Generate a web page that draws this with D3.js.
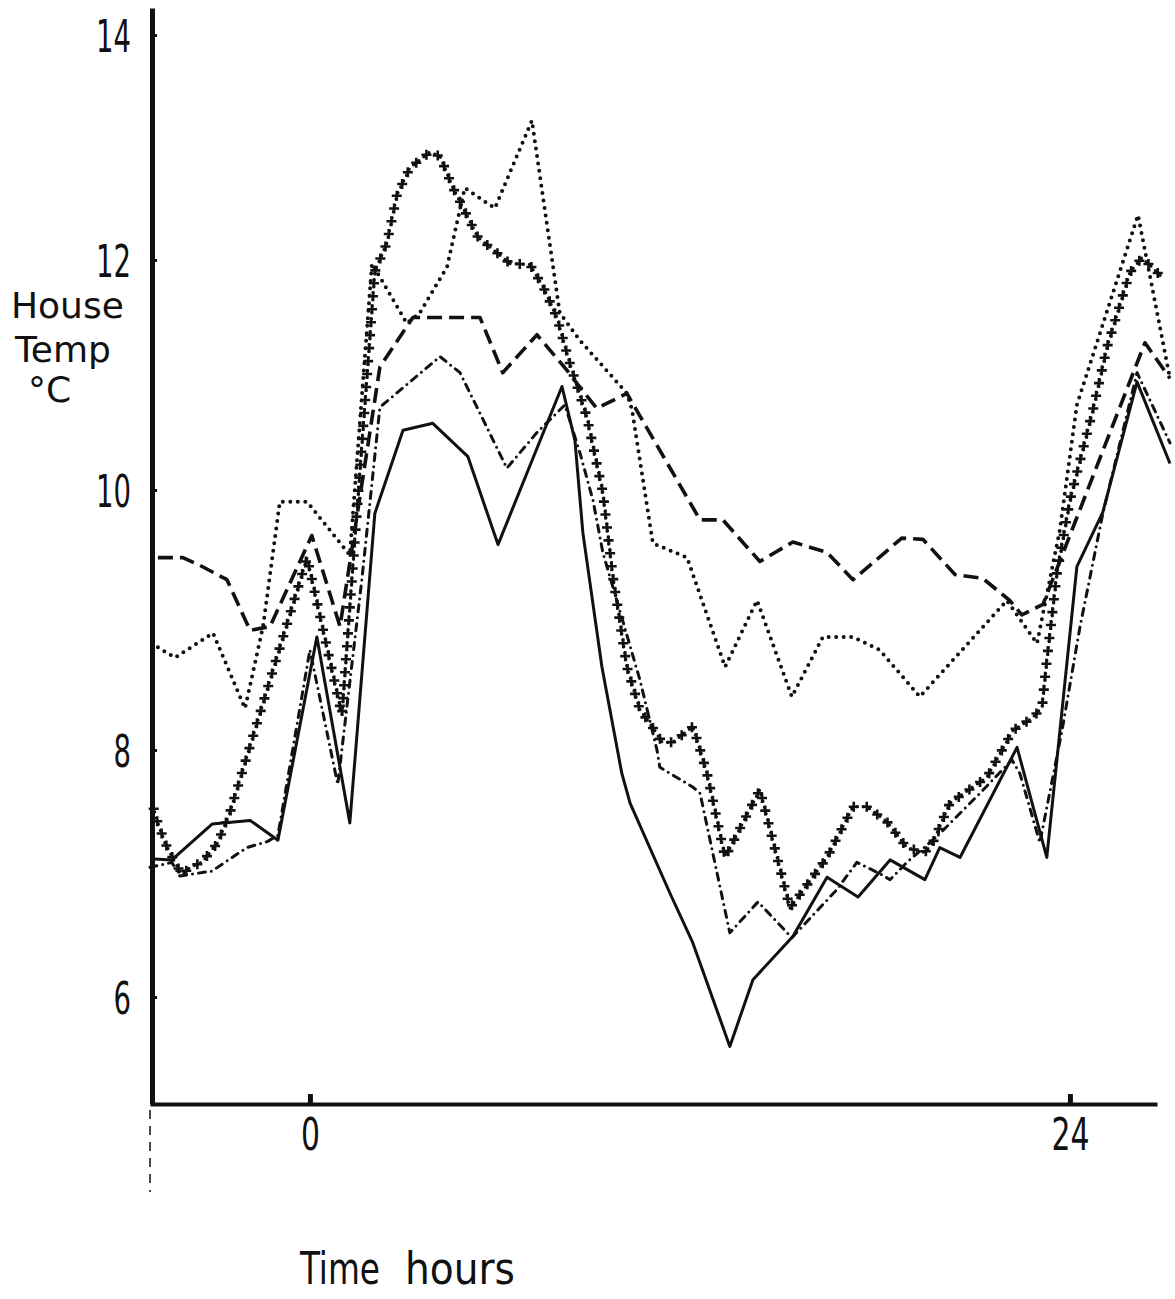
<!DOCTYPE html>
<html>
<head>
<meta charset="utf-8">
<script src="https://cdn.jsdelivr.net/npm/d3@7"></script>
<style>
  html, body { margin: 0; padding: 0; background: #fff; }
  svg { display: block; }
</style>
</head>
<body>
<svg id="chart" width="1175" height="1299"></svg>
<script>
// ---------------- data (hours, °C) ----------------
const yTickValues = [6, 8, 10, 12, 14];
const xTickValues = [0, 24];

const solidHours = [-5.05,-4.36,-3.09,-1.89,-1.01,0.22,1.26,2.05,2.94,3.88,4.99,5.94,7.96,8.37,8.62,9.22,9.85,10.11,11.37,12.09,13.26,13.99,15.25,16.33,17.31,18.32,19.42,19.89,20.53,22.33,23.27,24.22,25.04,26.12,27.16];
const solidTemps = [7.12,7.11,7.40,7.43,7.27,8.87,7.41,9.82,10.52,10.58,10.29,9.58,10.90,10.43,9.67,8.64,7.81,7.57,6.84,6.44,5.60,6.14,6.49,6.97,6.81,7.11,6.95,7.21,7.13,8.02,7.13,9.41,9.83,10.94,10.23];

const dashDotHours = [-5.05,-4.36,-4.11,-3.09,-1.99,-1.33,-1.01,0,0.88,1.64,2.21,4.11,4.74,6.22,7.17,8.05,8.53,8.94,9.25,10.42,10.96,11.05,12.09,12.32,13.26,14.15,15.22,16.64,17.27,17.99,18.32,18.85,19.80,21.16,22.17,22.42,23.05,23.46,23.75,24.32,25.04,26.12,27.16];
const dashDotTemps = [7.05,7.09,6.98,7.02,7.21,7.26,7.31,8.77,7.72,9.31,10.72,11.16,11.02,10.19,10.50,10.74,10.32,9.92,9.52,8.54,8.00,7.86,7.70,7.65,6.52,6.77,6.48,6.87,7.09,7.00,6.95,7.09,7.30,7.65,7.92,7.81,7.25,7.78,8.15,8.95,9.82,11.02,10.41];

const dashedHours = [-4.80,-4.01,-3.47,-2.62,-1.89,-1.26,0.06,0.95,2.21,3.25,5.37,6.09,7.17,8.12,8.59,9.06,10.01,12.32,13.04,14.21,15.25,16.33,17.15,18.69,19.36,20.37,21.25,22.10,22.48,23.15,26.37,27.16];
const dashedTemps = [9.48,9.48,9.42,9.31,8.92,8.95,9.65,8.95,11.07,11.50,11.50,11.02,11.35,11.04,10.87,10.71,10.84,9.77,9.77,9.45,9.60,9.52,9.31,9.63,9.62,9.35,9.32,9.15,9.04,9.12,11.28,10.97];

const dottedHours = [-4.80,-4.26,-3.06,-2.05,-1.48,-0.95,-0.09,1.26,1.96,3.06,3.47,4.33,4.89,5.84,7.01,7.89,8.53,10.01,10.17,10.83,11.91,13.11,14.12,15.22,16.20,17.15,17.99,19.26,22.01,22.96,23.68,24.22,26.15,27.16];
const dottedTemps = [8.79,8.71,8.90,8.32,8.95,9.91,9.91,9.50,11.97,11.45,11.54,11.94,12.64,12.46,13.24,11.54,11.30,10.84,10.70,9.59,9.48,8.64,9.15,8.41,8.87,8.87,8.77,8.41,9.15,8.82,9.69,10.74,12.40,10.97];

const crossHours = [-4.96,-4.83,-4.58,-4.26,-4.04,-3.79,-3.41,-2.91,-2.53,-0.09,1.01,1.58,2.05,2.43,2.75,3.16,3.79,4.11,4.52,5.31,6.32,6.95,7.36,7.80,8.21,8.75,9.25,9.57,10.01,10.42,10.89,11.12,11.46,12.09,12.25,12.54,13.11,14.21,15.16,16.33,17.15,17.59,18.22,18.85,19.42,19.67,20.21,21.38,22.20,22.83,23.12,23.27,23.59,24.00,24.73,25.17,25.89,26.27,26.62,26.94];
const crossTemps = [7.55,7.43,7.25,7.09,6.99,7.05,7.09,7.25,7.49,9.48,8.27,10.17,11.90,12.15,12.58,12.82,12.96,12.92,12.64,12.20,11.97,11.96,11.77,11.50,11.10,10.63,9.98,9.33,8.64,8.31,8.15,8.06,8.06,8.18,8.06,7.81,7.13,7.68,6.72,7.13,7.54,7.54,7.42,7.21,7.17,7.25,7.57,7.78,8.15,8.25,8.33,8.69,9.36,9.92,10.70,11.24,11.89,12.02,11.93,11.84];

// ---------------- scales ----------------
const svg = d3.select("#chart");
const x = d3.scaleLinear().domain([-5.05, 26.75]).range([150, 1157]);
// the hand-drawn axis has slightly uneven spacing between its labelled ticks
const y = d3.scaleLinear()
  .domain([5.134, 6, 8, 10, 12, 14, 14.24])
  .range([1104, 997, 750, 490, 260, 35, 8]);

const line = d3.line().x(d => x(d[0])).y(d => y(d[1]));
const ink = "#111";
const numFont = "'DejaVu Sans Condensed', 'DejaVu Sans', sans-serif";

// narrow, DIN-like figures: squeeze each label to the width of its digits
function narrow(sel, perDigit) {
  sel.each(function () {
    const t = d3.select(this);
    t.attr("textLength", t.text().length * perDigit).attr("lengthAdjust", "spacingAndGlyphs");
  });
}

// ---------------- axes ----------------
const yAxis = svg.append("g")
  .attr("transform", "translate(152,0)")
  .call(d3.axisLeft(y).tickValues(yTickValues).tickSize(9).tickSizeOuter(0).tickPadding(12));
yAxis.select(".domain").attr("stroke", ink).attr("stroke-width", 5);
yAxis.selectAll(".tick line").attr("stroke", ink).attr("stroke-width", 3).attr("x2", 5);
yAxis.selectAll(".tick text")
  .attr("fill", ink)
  .attr("font-family", numFont)
  .attr("font-size", 44)
  .attr("dy", "0.38em")
  .call(narrow, 17.5);

const xAxis = svg.append("g")
  .attr("transform", "translate(0,1104)")
  .call(d3.axisBottom(x).tickValues(xTickValues).tickSize(-10).tickSizeOuter(0).tickFormat(d3.format("d")));
xAxis.select(".domain").attr("stroke", ink).attr("stroke-width", 4);
xAxis.selectAll(".tick line").attr("stroke", ink).attr("stroke-width", 5);
xAxis.selectAll(".tick text")
  .attr("fill", ink)
  .attr("font-family", numFont)
  .attr("font-size", 44)
  .attr("y", 46).attr("dy", 0)
  .call(narrow, 19);

// faint broken line below the origin
svg.append("line")
  .attr("x1", x(-5.05)).attr("x2", x(-5.05))
  .attr("y1", 1110).attr("y2", 1192)
  .attr("stroke", ink).attr("stroke-width", 1.5)
  .attr("stroke-dasharray", "9 7");

// ---------------- titles ----------------
const yTitle = svg.append("g").attr("fill", ink)
  .attr("font-family", "'DejaVu Sans', sans-serif").attr("font-size", 36);
yTitle.append("text").attr("x", 11).attr("y", 318).text("House");
yTitle.append("text").attr("x", 15).attr("y", 362).text("Temp");
yTitle.append("text").attr("x", 28).attr("y", 402).text("°C");

const xTitle = svg.append("g").attr("fill", ink)
  .attr("font-family", numFont).attr("font-size", 44);
xTitle.append("text").attr("x", 300).attr("y", 1284)
  .attr("textLength", 80).attr("lengthAdjust", "spacingAndGlyphs").text("Time");
xTitle.append("text").attr("x", 405).attr("y", 1284)
  .attr("textLength", 110).attr("lengthAdjust", "spacingAndGlyphs").text("hours");

// ---------------- series ----------------
function drawSeries(hours, temps, style) {
  return svg.append("path")
    .datum(d3.zip(hours, temps))
    .attr("d", line)
    .attr("fill", "none")
    .attr("stroke", ink)
    .attr("stroke-linejoin", "round")
    .call(p => { for (const k in style) p.attr(k, style[k]); });
}

drawSeries(solidHours, solidTemps, {"stroke-width": 3});
drawSeries(dashedHours, dashedTemps, {"stroke-width": 3.6, "stroke-dasharray": "15 7"});
drawSeries(dottedHours, dottedTemps, {"stroke-width": 4, "stroke-linecap": "round", "stroke-dasharray": "0 7.5"});
drawSeries(dashDotHours, dashDotTemps, {"stroke-width": 3, "stroke-linecap": "round", "stroke-dasharray": "7 6 0 6"});

const crossPath = drawSeries(crossHours, crossTemps, {"stroke-width": 3.4, "stroke-linecap": "round", "stroke-dasharray": "0 6.5"});
const node = crossPath.node();
const total = node.getTotalLength();
const marks = d3.range(3.25, total, 13).map(l => node.getPointAtLength(l));
svg.append("g").selectAll("path").data(marks).join("path")
  .attr("transform", p => `translate(${p.x},${p.y})`)
  .attr("d", "M-5,0H5M0,-5V5")
  .attr("stroke", ink).attr("stroke-width", 2.6).attr("fill", "none");
</script>
</body>
</html>
